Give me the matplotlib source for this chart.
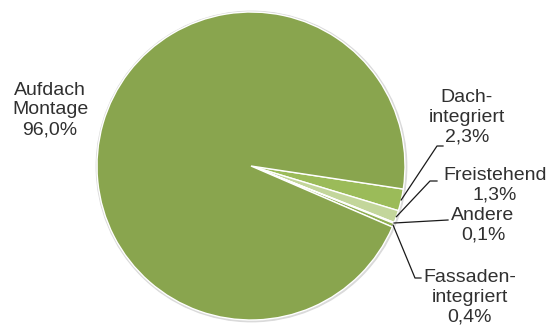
import numpy as np
import matplotlib
matplotlib.use("Agg")
import matplotlib.pyplot as plt
from matplotlib.patches import Circle

plt.rcParams['font.family'] = ['Liberation Sans', 'DejaVu Sans']

# data (share of installed PV, %)
labels = ["Dach-\nintegriert", "Freistehend", "Andere", "Fassaden-\nintegriert", "Aufdach\nMontage"]
values = [2.3, 1.3, 0.1, 0.4, 96.0]
pct_text = ["2,3%", "1,3%", "0,1%", "0,4%", "96,0%"]
colors = ["#9BBB59", "#C3D69B", "#D7E4BD", "#8FAE52", "#89A54E"]

W, H = 550, 328
fig = plt.figure(figsize=(5.5, 3.28), dpi=100)
ax = fig.add_axes([0, 0, 1, 1])
ax.set_xlim(0, W)
ax.set_ylim(0, H)
ax.set_aspect('equal')
ax.axis('off')

cx, cy, r = 251, H - 166, 154

# faint shadow ring
ax.add_patch(Circle((cx + 0.5, cy - 0.5), r + 1.2, color='#dadada', zorder=0))

wedges, _ = ax.pie(values, colors=colors, startangle=-8.6, counterclock=False,
                   center=(cx, cy), radius=r, frame=True,
                   wedgeprops=dict(edgecolor='white', linewidth=1.0))
ax.set_xlim(0, W)
ax.set_ylim(0, H)
ax.axis('off')

txt_color = '#303030'
fs = 14

# label positions (pixel coords, y from top) and leader line elbows
label_pos = [(467, 117), (495, 185), (483, 225), (470, 297), (50, 110)]
elbows = [[(437, 146), (443, 146)],
          [(430, 181), (437, 181)],
          [(448, 220)],
          [(415, 278), (421, 278)],
          None]

for w, lab, p, pos, elb in zip(wedges, labels, pct_text, label_pos, elbows):
    ax.text(pos[0], H - pos[1], lab + "\n" + p, ha='center', va='center',
            multialignment='center', fontsize=fs, color=txt_color, linespacing=1.2)
    if elb is None:
        continue
    mid = np.deg2rad((w.theta1 + w.theta2) / 2)
    x0 = cx + r * np.cos(mid)
    y0 = cy + r * np.sin(mid)
    xs = [x0] + [e[0] for e in elb]
    ys = [y0] + [H - e[1] for e in elb]
    ax.plot(xs, ys, color='#1a1a1a', linewidth=0.9, zorder=5)

fig.savefig("out.png", dpi=100)
